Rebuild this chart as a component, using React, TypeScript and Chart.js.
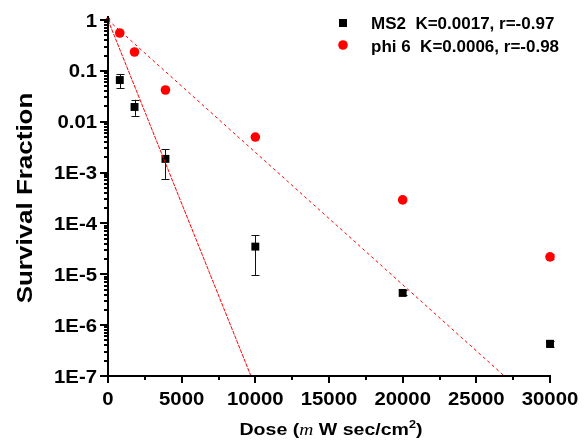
import { useEffect, useRef } from "react";
import { Chart, registerables } from "chart.js";

Chart.register(...registerables);

// ---- data ----
const DOSES = [800, 1800, 3900, 10000, 20000, 30000];

const MS2_VALUES = [0.066, 0.0195, 0.00186, 3.5e-5, 4.3e-6, 4.3e-7];
const MS2_LOW = [0.046, 0.013, 0.00075, 9.7e-6, 3.9e-6, 3.8e-7];
const MS2_HIGH = [0.087, 0.027, 0.0029, 5.9e-5, 4.8e-6, 4.8e-7];

const PHI6_VALUES = [0.555, 0.235, 0.042, 0.005, 2.9e-4, 2.2e-5];
const PHI6_LOW: (number | null)[] = [null, null, null, null, null, 2.0e-5];
const PHI6_HIGH: (number | null)[] = [null, null, null, null, null, 2.5e-5];

const MS2_FIT_X = [0, 9700];
const MS2_FIT_Y = [1, 1e-7];
const PHI6_FIT_X = [0, 26900];
const PHI6_FIT_Y = [1, 1e-7];

const X_TICKS = [0, 5000, 10000, 15000, 20000, 25000, 30000];
const X_TICK_LABELS = ["0", "5000", "10000", "15000", "20000", "25000", "30000"];
const Y_TICK_VALUES = [1e-7, 1e-6, 1e-5, 1e-4, 1e-3, 0.01, 0.1, 1];
const Y_TICK_LABELS = ["1E-7", "1E-6", "1E-5", "1E-4", "1E-3", "0.01", "0.1", "1"];

const LEGEND_LABELS = ["MS2  K=0.0017, r=-0.97", "phi 6  K=0.0006, r=-0.98"];
const Y_TITLE = "Survival Fraction";

const FONT = '"Liberation Sans", Arial, sans-serif';
const RED = "#ff0000";
const BLACK = "#000000";
const STRETCH = 1.13;

const errorBarPlugin = {
  id: "errorBars",
  beforeDatasetsDraw(chart: any) {
    const { ctx, scales } = chart;
    const x = scales.x;
    const y = scales.y;
    const sets = [
      { low: MS2_LOW, high: MS2_HIGH, color: "#111111" },
      { low: PHI6_LOW, high: PHI6_HIGH, color: RED },
    ];
    ctx.save();
    ctx.lineWidth = 1;
    sets.forEach((s) => {
      ctx.strokeStyle = s.color;
      DOSES.forEach((d, i) => {
        const lo = s.low[i];
        const hi = s.high[i];
        if (lo == null || hi == null) return;
        const px = Math.round(x.getPixelForValue(d)) + 0.5;
        const y1 = y.getPixelForValue(lo);
        const y2 = y.getPixelForValue(hi);
        ctx.beginPath();
        ctx.moveTo(px, y1);
        ctx.lineTo(px, y2);
        ctx.moveTo(px - 4, Math.round(y1) + 0.5);
        ctx.lineTo(px + 4, Math.round(y1) + 0.5);
        ctx.moveTo(px - 4, Math.round(y2) + 0.5);
        ctx.lineTo(px + 4, Math.round(y2) + 0.5);
        ctx.stroke();
      });
    });
    ctx.restore();
  },
};

function stretchedText(
  ctx: CanvasRenderingContext2D,
  text: string,
  x: number,
  y: number,
  align: "left" | "right" | "center",
  sx: number
) {
  ctx.save();
  ctx.translate(x, y);
  ctx.scale(sx, 1);
  ctx.textAlign = align;
  ctx.fillText(text, 0, 0);
  ctx.restore();
}

const decorPlugin = {
  id: "decor",
  afterDraw(chart: any) {
    const { ctx, chartArea, scales } = chart;
    const x = scales.x;
    const y = scales.y;
    const { left, right, top, bottom } = chartArea;
    ctx.save();
    ctx.strokeStyle = BLACK;
    ctx.lineWidth = 2;
    // axis lines
    ctx.beginPath();
    ctx.moveTo(left, top - 4);
    ctx.lineTo(left, bottom);
    ctx.lineTo(right + 1, bottom);
    ctx.stroke();
    // y ticks (major + minor per decade)
    ctx.beginPath();
    for (let e = -7; e <= 0; e++) {
      for (let m = 1; m <= 9; m++) {
        const v = m * Math.pow(10, e);
        if (v > 1.0000001) break;
        const py = Math.round(y.getPixelForValue(v));
        const len = m === 1 ? 8 : 4;
        ctx.moveTo(left - len, py);
        ctx.lineTo(left, py);
      }
    }
    // x ticks
    for (let v = 0; v <= 30000; v += 2500) {
      const px = Math.round(x.getPixelForValue(v));
      const len = v % 5000 === 0 ? 7 : 4;
      ctx.moveTo(px, bottom);
      ctx.lineTo(px, bottom + len);
    }
    ctx.stroke();

    ctx.fillStyle = BLACK;
    ctx.textBaseline = "alphabetic";
    // tick labels
    ctx.font = `bold 18px ${FONT}`;
    x.ticks.forEach((t: any, i: number) => {
      const px = x.getPixelForValue(t.value);
      stretchedText(ctx, X_TICK_LABELS[i], px, 405, "center", STRETCH);
    });
    y.ticks.forEach((t: any, i: number) => {
      const py = y.getPixelForValue(t.value);
      stretchedText(ctx, Y_TICK_LABELS[i], 97, py + 6.5, "right", STRETCH);
    });

    // y title
    ctx.save();
    ctx.translate(32, (top + bottom) / 2);
    ctx.rotate(-Math.PI / 2);
    ctx.font = `bold 22px ${FONT}`;
    stretchedText(ctx, Y_TITLE, 0, 0, "center", 1.18);
    ctx.restore();

    // x title with mixed fonts
    const parts = [
      { t: "Dose (", f: `bold 17px ${FONT}`, dy: 0 },
      { t: "m", f: `italic 17px "Liberation Serif", serif`, dy: 0 },
      { t: " W sec/cm", f: `bold 17px ${FONT}`, dy: 0 },
      { t: "2", f: `bold 11px ${FONT}`, dy: -7 },
      { t: ")", f: `bold 17px ${FONT}`, dy: 0 },
    ];
    let total = 0;
    parts.forEach((p) => {
      ctx.font = p.f;
      total += ctx.measureText(p.t).width;
    });
    const sx = 1.15;
    ctx.save();
    ctx.translate((left + right) / 2 + 2 - (total * sx) / 2, 435);
    ctx.scale(sx, 1);
    ctx.textAlign = "left";
    let cx = 0;
    parts.forEach((p) => {
      ctx.font = p.f;
      ctx.fillText(p.t, cx, p.dy);
      cx += ctx.measureText(p.t).width;
    });
    ctx.restore();

    // legend
    const lx = 343;
    ctx.textAlign = "left";
    ctx.font = `bold 17px ${FONT}`;
    ctx.fillStyle = BLACK;
    ctx.fillRect(lx - 4, 23 - 4, 8, 8);
    ctx.fillText(LEGEND_LABELS[0], 371, 29);
    ctx.fillStyle = RED;
    ctx.beginPath();
    ctx.arc(lx, 45, 4.8, 0, Math.PI * 2);
    ctx.fill();
    ctx.fillStyle = BLACK;
    ctx.fillText(LEGEND_LABELS[1], 371, 51.5);
    ctx.restore();
  },
};

export default function App() {
  const ref = useRef<HTMLCanvasElement>(null);
  useEffect(() => {
    if (!ref.current) return;
    const chart = new Chart(ref.current, {
      type: "scatter",
      data: {
        datasets: [
          {
            label: "MS2 fit",
            data: MS2_FIT_X.map((xv, i) => ({ x: xv, y: MS2_FIT_Y[i] })),
            showLine: true,
            borderColor: RED,
            borderWidth: 1,
            borderDash: [4, 1],
            pointRadius: 0,
            fill: false,
          },
          {
            label: "phi 6 fit",
            data: PHI6_FIT_X.map((xv, i) => ({ x: xv, y: PHI6_FIT_Y[i] })),
            showLine: true,
            borderColor: RED,
            borderWidth: 1,
            borderDash: [3, 3],
            pointRadius: [3, 0],
            pointStyle: "rect",
            pointBackgroundColor: RED,
            pointBorderWidth: 0,
            fill: false,
          },
          {
            label: LEGEND_LABELS[0],
            data: DOSES.map((d, i) => ({ x: d, y: MS2_VALUES[i] })),
            pointStyle: "rect",
            pointRadius: 5.6,
            pointBackgroundColor: BLACK,
            pointBorderColor: BLACK,
            pointBorderWidth: 0,
          },
          {
            label: LEGEND_LABELS[1],
            data: DOSES.map((d, i) => ({ x: d, y: PHI6_VALUES[i] })),
            pointStyle: "circle",
            pointRadius: 4.8,
            pointBackgroundColor: RED,
            pointBorderColor: RED,
            pointBorderWidth: 0,
          },
        ],
      },
      options: {
        animation: false,
        responsive: true,
        maintainAspectRatio: false,
        layout: { padding: { left: 0, right: 35, top: 20, bottom: 0 } },
        plugins: { legend: { display: false }, tooltip: { enabled: false } },
        clip: false as any,
        scales: {
          x: {
            type: "linear",
            min: 0,
            max: 30000,
            afterBuildTicks: (s: any) => {
              s.ticks = X_TICKS.map((v) => ({ value: v }));
            },
            afterFit: (s: any) => {
              s.height = 66;
            },
            grid: { display: false, drawTicks: false },
            border: { display: false },
            ticks: { display: false },
          },
          y: {
            type: "logarithmic",
            min: 1e-7,
            max: 1,
            afterBuildTicks: (s: any) => {
              s.ticks = Y_TICK_VALUES.map((v) => ({ value: v, major: true }));
            },
            afterFit: (s: any) => {
              s.width = 108;
            },
            grid: { display: false, drawTicks: false },
            border: { display: false },
            ticks: { display: false },
          },
        },
      },
      plugins: [errorBarPlugin, decorPlugin],
    });
    return () => chart.destroy();
  }, []);
  return (
    <div
      style={{
        position: "fixed",
        left: 0,
        top: 0,
        width: 585,
        height: 442,
        background: "#ffffff",
      }}
    >
      <canvas ref={ref} />
    </div>
  );
}
